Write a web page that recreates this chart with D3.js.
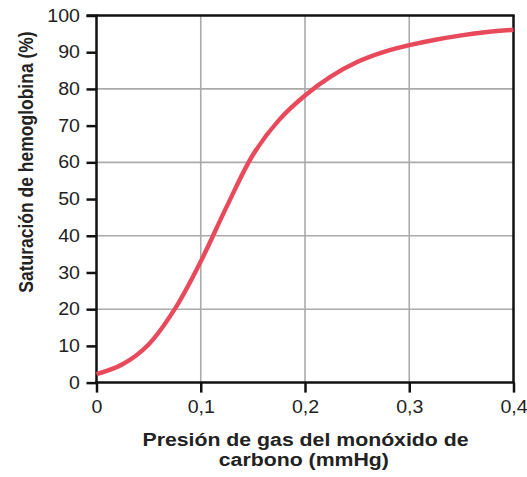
<!DOCTYPE html>
<html><head><meta charset="utf-8">
<script src="https://cdn.jsdelivr.net/npm/d3@7"></script>
<style>body{margin:0;background:#fff}svg{display:block}</style>
</head><body>
<script>
const pressure = [0, 0.025, 0.05, 0.075, 0.1, 0.125, 0.15, 0.175, 0.2, 0.225, 0.25, 0.275, 0.3, 0.325, 0.35, 0.375, 0.4];
const saturation = [2.3, 5.0, 10.4, 20.0, 33.0, 48.0, 62.0, 71.5, 78.2, 83.4, 87.3, 90.0, 91.9, 93.4, 94.6, 95.5, 96.1];
const xTicks = [0, 0.1, 0.2, 0.3, 0.4];
const xTickLabels = ["0", "0,1", "0,2", "0,3", "0,4"];
const yTicks = [0,10,20,30,40,50,60,70,80,90,100];
const yGrid = [20,40,60,80];
const xGrid = [0.1,0.2,0.3];

const W=527,H=477, L=96.5, R=513.5, T=15.5, B=382.6, SX=1.12;
const svg=d3.select("body").append("svg").attr("width",W).attr("height",H);
const x=d3.scaleLinear().domain([0,0.4]).range([L,R]);
const y=d3.scaleLinear().domain([0,100]).range([B,T]);
const font="Liberation Sans, Arial, Helvetica, sans-serif";

svg.append("g").selectAll("line").data(yGrid).join("line")
  .attr("x1",L).attr("x2",R).attr("y1",d=>y(d)).attr("y2",d=>y(d))
  .attr("stroke","#aaa").attr("stroke-width",1.6);
svg.append("g").selectAll("line").data(xGrid).join("line")
  .attr("y1",T).attr("y2",B).attr("x1",d=>x(d)).attr("x2",d=>x(d))
  .attr("stroke","#aaa").attr("stroke-width",1.6);

svg.append("line").attr("x1",L).attr("x2",R+1.2).attr("y1",T).attr("y2",T).attr("stroke","#111").attr("stroke-width",2.5);
svg.append("line").attr("x1",R).attr("x2",R).attr("y1",T).attr("y2",B).attr("stroke","#111").attr("stroke-width",2.5);

const yAxis=svg.append("g").attr("transform",`translate(${L},0)`)
  .call(d3.axisLeft(y).tickValues(yTicks).tickSize(10).tickPadding(6.5).tickFormat(d3.format("d")));
const xAxis=svg.append("g").attr("transform",`translate(0,${B})`)
  .call(d3.axisBottom(x).tickValues(xTicks).tickSize(10).tickPadding(8).tickFormat((d,i)=>xTickLabels[i]));
[yAxis,xAxis].forEach(g=>{
  g.select(".domain").attr("stroke","#111").attr("stroke-width",2.5);
  g.selectAll(".tick line").attr("stroke","#111").attr("stroke-width",2.5);
  g.selectAll("text").attr("font-family",font).attr("font-size",17.5).attr("fill","#222")
    .each(function(){
      const t=d3.select(this); const tx=+t.attr("x")||0;
      t.attr("x",0).attr("transform",`translate(${tx},0) scale(${SX},1)`);
    });
});
yAxis.select(".domain").attr("d",`M-10,${T}H0V${B}`);
xAxis.select(".domain").attr("d",`M${L-1.2},0H${R+1.2}`);

const line=d3.line().x((d,i)=>x(pressure[i])).y(d=>y(d)).curve(d3.curveCatmullRom.alpha(0.5));
svg.append("path").attr("d",line(saturation)).attr("fill","none")
  .attr("stroke","#e84a5c").attr("stroke-width",4.4).attr("stroke-linecap","butt");

svg.append("text").attr("transform",`translate(32.5,162) scale(${SX},1) rotate(-90)`).attr("text-anchor","middle")
  .attr("font-family",font).attr("font-weight","bold").attr("font-size",17.5).attr("fill","#222")
  .text("Saturación de hemoglobina (%)");
const xt=svg.append("text").attr("transform",`translate(305.5,0) scale(${SX},1)`).attr("text-anchor","middle").attr("font-family",font).attr("font-weight","bold")
  .attr("font-size",19).attr("fill","#222");
xt.append("tspan").attr("x",0).attr("y",446).text("Presión de gas del monóxido de");
xt.append("tspan").attr("x",-1.5).attr("y",466.5).text("carbono (mmHg)");
</script>
</body></html>
